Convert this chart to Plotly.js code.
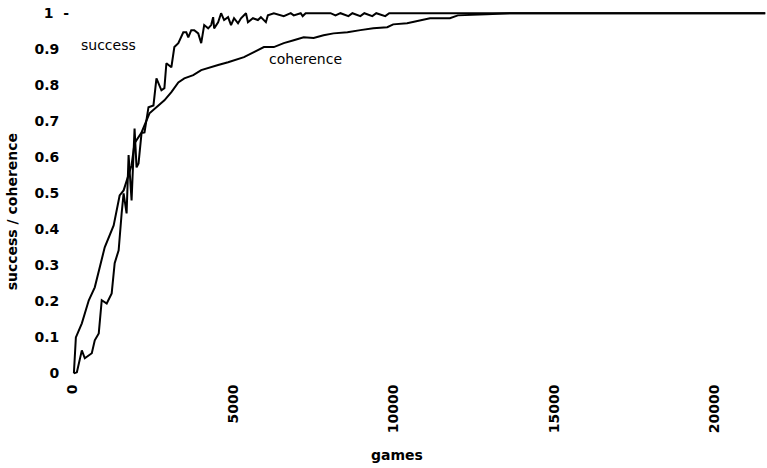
<!DOCTYPE html>
<html>
<head>
<meta charset="utf-8">
<script src="https://cdn.plot.ly/plotly-3.0.1.min.js"></script>
<style>html,body{margin:0;padding:0;background:#fff;}#chart{width:767px;height:468px;}</style>
</head>
<body>
<div id="chart"></div>
<script>
// games played
var successGames = [31,124,279,372,589,682,806,899,1054,1209,1302,1426,1519,1581,1674,1736,1829,1922,1984,2046,2139,2232,2356,2511,2604,2759,2852,2914,3069,3162,3286,3441,3534,3596,3689,3782,3906,3999,4092,4216,4309,4371,4402,4526,4619,4712,4836,4929,5022,5146,5239,5394,5456,5611,5766,5859,6014,6076,6262,6572,6789,6882,7099,7161,7254,8029,8184,8339,8587,8711,8959,9083,9331,9455,9734,9858,21576];
var successValues = [0,0.003,0.064,0.042,0.056,0.092,0.111,0.203,0.194,0.222,0.306,0.342,0.444,0.50,0.444,0.606,0.48,0.68,0.572,0.583,0.667,0.669,0.739,0.744,0.819,0.786,0.792,0.861,0.85,0.906,0.917,0.947,0.947,0.933,0.953,0.953,0.944,0.917,0.967,0.958,0.967,0.989,0.958,0.975,1.0,0.981,0.989,0.967,0.986,0.972,0.986,1.0,0.975,0.986,0.981,0.989,0.975,0.994,1.0,0.992,1.0,0.994,1.0,0.992,1.0,1.0,0.994,1.0,0.992,1.0,0.992,1.0,0.992,1.0,0.992,1.0,1.0];
var coherenceGames = [31,93,279,496,682,992,1271,1457,1581,1705,1829,1922,2139,2387,2666,2852,3069,3286,3472,3751,3999,4216,4526,4836,5022,5332,5642,5952,6262,6572,6882,7192,7502,7812,8122,8556,8959,9362,9796,9982,10416,10819,11129,11749,11997,12896,13671,21576];
var coherenceValues = [0,0.1,0.139,0.203,0.239,0.35,0.411,0.494,0.508,0.542,0.578,0.639,0.669,0.722,0.744,0.758,0.781,0.808,0.819,0.828,0.842,0.847,0.856,0.864,0.869,0.878,0.892,0.906,0.906,0.917,0.925,0.933,0.931,0.939,0.944,0.947,0.953,0.958,0.961,0.969,0.972,0.981,0.986,0.986,0.994,0.997,1.0,1.0];
var yTickValues = [0,0.1,0.2,0.3,0.4,0.5,0.6,0.7,0.8,0.9,1];
var yTickLabels = ["0","0.1","0.2","0.3","0.4","0.5","0.6","0.7","0.8","0.9","1"];
var xTickValues = [0,5000,10000,15000,20000];
var xTickLabels = ["0","5000","10000","15000","20000"];

var NB = "\u00a0\u00a0";
var yText = yTickLabels.map(function(t, i){ return i === yTickLabels.length - 1 ? t + NB + "-" : t + NB; });

var lineStyle = {color: "#000", width: 2};
var traces = [
  {x: successGames, y: successValues, mode: "lines", line: lineStyle, name: "success", hoverinfo: "skip"},
  {x: coherenceGames, y: coherenceValues, mode: "lines", line: lineStyle, name: "coherence", hoverinfo: "skip"}
];
var tickFont = {family: "DejaVu Sans", size: 14, color: "#000", weight: "bold"};
var layout = {
  width: 767, height: 468,
  margin: {l: 70, r: 0.5, t: 5.8, b: 91.4, pad: 0},
  paper_bgcolor: "#fff", plot_bgcolor: "#fff",
  showlegend: false,
  xaxis: {range: [-90, 21600], showgrid: false, zeroline: false, showline: false,
    tickmode: "array", tickvals: xTickValues, ticktext: xTickLabels, tickangle: -90,
    ticks: "outside", ticklen: 1, tickcolor: "rgba(0,0,0,0)", tickfont: tickFont},
  yaxis: {range: [-0.01, 1.02], showgrid: false, zeroline: false, showline: false,
    tickmode: "array", tickvals: yTickValues, ticktext: yText,
    ticks: "", tickfont: tickFont},
  annotations: [
    {text: "success", showarrow: false},
    {text: "coherence", showarrow: false},
    {text: "success / coherence", showarrow: false, textangle: -90},
    {text: "games", showarrow: false}
  ]
};
// place annotations in pixel coordinates of the page
function px(a, xp, yp, xanchor, size, bold){
  a.xref = "paper"; a.yref = "paper";
  var pw = 767 - layout.margin.l - layout.margin.r;
  var ph = 468 - layout.margin.t - layout.margin.b;
  a.x = (xp - layout.margin.l) / pw;
  a.y = 1 - (yp - layout.margin.t) / ph;
  a.xanchor = xanchor; a.yanchor = "middle";
  a.font = {family: "DejaVu Sans", size: size, color: "#000", weight: bold ? "bold" : "normal"};
  a.borderpad = 0;
}
px(layout.annotations[0], 80, 45, "left", 14, false);
px(layout.annotations[1], 268, 59, "left", 14, false);
px(layout.annotations[2], 12, 212, "center", 14, true);
px(layout.annotations[3], 397, 455, "center", 14, true);

Plotly.newPlot("chart", traces, layout, {staticPlot: true, displayModeBar: false});
</script>
</body>
</html>
